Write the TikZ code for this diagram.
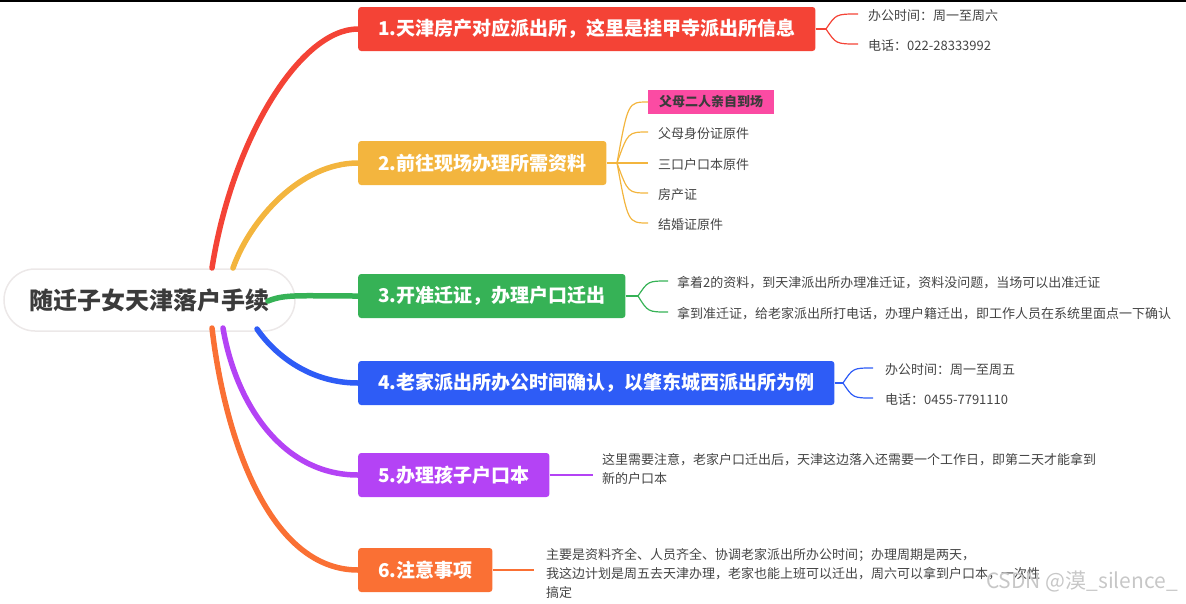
\documentclass[tikz,border=0pt]{standalone}
\usepackage{fontspec}
\setmainfont{Noto Sans CJK SC}
\usetikzlibrary{positioning, calc}
\definecolor{rootgray}{HTML}{3B3B3B}
\definecolor{rootline}{HTML}{ECE8E8}
\definecolor{leafgray}{HTML}{444444}
\definecolor{redA}{HTML}{F44336}
\definecolor{yellowB}{HTML}{F3B53E}
\definecolor{greenC}{HTML}{36B256}
\definecolor{blueD}{HTML}{2E5CF6}
\definecolor{purpleE}{HTML}{B443F5}
\definecolor{orangeF}{HTML}{FA7034}
\definecolor{pinkB}{HTML}{FB4BA3}

\begin{document}
\begin{tikzpicture}[x=1pt, y=-1pt,
    topic/.style={rectangle, rounded corners=3pt, text=white, anchor=west,
        font=\fontsize{19}{23}\selectfont\bfseries, inner xsep=20pt, minimum height=44pt},
    leaf/.style={anchor=west, inner xsep=10pt, inner ysep=2pt, text=leafgray, yshift=-1.5pt,
        font=\fontsize{13}{19}\selectfont, align=left},
    limb/.style={line width=5.5pt, line cap=round},
    twig/.style={line width=1.2pt}]

    \useasboundingbox (0,0) rectangle (1186,603);
    \draw[line width=1.6pt] (0,0.8) -- (1186,0.8);

    % Root
    \node[draw=rootline, line width=1.5pt, fill=white, rounded corners=31pt,
        minimum width=291pt, minimum height=62pt, text=rootgray,
        font=\fontsize{24}{28}\selectfont\bfseries] (root) at (149.5,300) {随迁子女天津落户手续};

    % Topics
    \node[topic, fill=redA] (t1) at (358,29) {1.天津房产对应派出所，这里是挂甲寺派出所信息};
    \node[topic, fill=yellowB] (t2) at (358,163) {2.前往现场办理所需资料};
    \node[topic, fill=greenC] (t3) at (358,296) {3.开准迁证，办理户口迁出};
    \node[topic, fill=blueD] (t4) at (358,383) {4.老家派出所办公时间确认，以肇东城西派出所为例};
    \node[topic, fill=purpleE] (t5) at (358,475) {5.办理孩子户口本};
    \node[topic, fill=orangeF] (t6) at (358,570) {6.注意事项};

    % Limbs from the root
    \coordinate (r1) at (212,268);
    \coordinate (r2) at (233,268);
    \coordinate (r3) at (268,301);
    \coordinate (r4) at (257,329);
    \coordinate (r5) at (223,328);
    \coordinate (r6) at (212,328);
    \draw[limb, redA] (r1) .. controls (232,140) and (300,29) .. (t1.west);
    \draw[limb, yellowB] (r2) .. controls (250,220) and (300,163) .. (t2.west);
    \draw[limb, greenC] (r3) .. controls (285,294) and (300,296) .. (t3.west);
    \draw[limb, blueD] (r4) .. controls (275,355) and (310,383) .. (t4.west);
    \draw[limb, purpleE] (r5) .. controls (235,400) and (280,475) .. (t5.west);
    \draw[limb, orangeF] (r6) .. controls (225,440) and (270,570) .. (t6.west);

    % Branch 1
    \coordinate (f1) at (826,29);
    \node[leaf] (l11) at (858,14) {办公时间：周一至周六};
    \node[leaf] (l12) at (858,44) {电话：022-28333992};
    \draw[twig, redA] (t1.east) -- (f1);
    \draw[twig, redA] (f1) .. controls (836,14) .. (858,14);
    \draw[twig, redA] (f1) .. controls (836,44) .. (858,44);

    % Branch 2
    \coordinate (f2) at (617,163);
    \node[leaf, fill=pinkB, text=rootgray, inner xsep=11pt, minimum height=24pt, yshift=1.5pt,
        font=\fontsize{13}{19}\selectfont\bfseries] (l21) at (648,102) {父母二人亲自到场};
    \node[leaf] (l22) at (648,132) {父母身份证原件};
    \node[leaf] (l23) at (648,163) {三口户口本原件};
    \node[leaf] (l24) at (648,193) {房产证};
    \node[leaf] (l25) at (648,223) {结婚证原件};
    \draw[twig, yellowB] (t2.east) -- (f2) -- (648,163);
    \foreach \n/\y in {l21/102, l22/132, l24/193, l25/223}
        \draw[twig, yellowB] (f2) .. controls (628,\y) .. (648,\y);

    % Branch 3
    \coordinate (f3) at (638,296);
    \node[leaf, inner xsep=9pt] (l31) at (668,281) {拿着2的资料，到天津派出所办理准迁证，资料没问题，当场可以出准迁证};
    \node[leaf, inner xsep=9pt] (l32) at (668,312) {拿到准迁证，给老家派出所打电话，办理户籍迁出，即工作人员在系统里面点一下确认};
    \draw[twig, greenC] (t3.east) -- (f3);
    \draw[twig, greenC] (f3) .. controls (648,281) .. (668,281);
    \draw[twig, greenC] (f3) .. controls (648,312) .. (668,312);

    % Branch 4
    \coordinate (f4) at (843,383);
    \node[leaf, inner xsep=12pt] (l41) at (873,368) {办公时间：周一至周五};
    \node[leaf, inner xsep=12pt] (l42) at (873,398) {电话：0455-7791110};
    \draw[twig, blueD] (t4.east) -- (f4);
    \draw[twig, blueD] (f4) .. controls (853,368) .. (873,368);
    \draw[twig, blueD] (f4) .. controls (853,398) .. (873,398);

    % Branch 5
    \node[leaf, inner xsep=9pt] (l5) at (593,467)
        {这里需要注意，老家户口迁出后，天津这边落入还需要一个工作日，即第二天才能拿到\\新的户口本};
    \draw[twig, purpleE] (t5.east) -- (593,475);

    % Branch 6
    \node[leaf, inner xsep=12pt] (l6) at (534,572)
        {主要是资料齐全、人员齐全、协调老家派出所办公时间；办理周期是两天，\\
         我这边计划是周五去天津办理，老家也能上班可以迁出，周六可以拿到户口本，一次性\\
         搞定};
    \draw[twig, orangeF] (t6.east) -- (534,570);

    % Watermark
    \node[text=black!22, font=\fontsize{21}{24}\selectfont] (mark) at (1082,581) {CSDN @漠\_silence\_};
\end{tikzpicture}
\end{document}
